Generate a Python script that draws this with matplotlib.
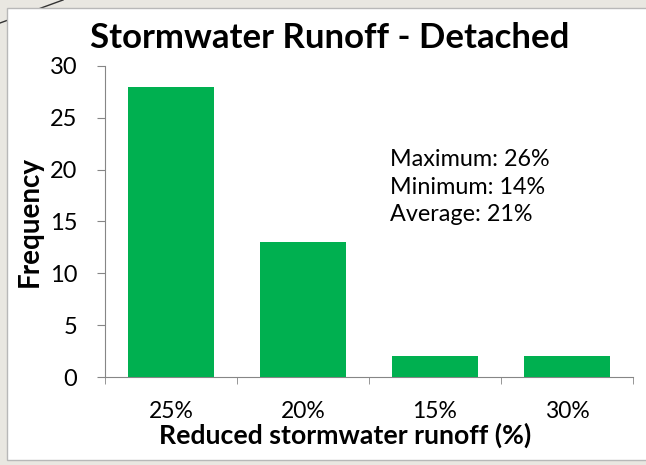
import matplotlib
matplotlib.use('Agg')
import matplotlib.pyplot as plt
from matplotlib.patches import FancyBboxPatch
from matplotlib.lines import Line2D

categories = ['25%', '20%', '15%', '30%']
frequency = [28, 13, 2, 2]
y_ticks = [0, 5, 10, 15, 20, 25, 30]
stats_lines = ['Maximum: 26%', 'Minimum: 14%', 'Average: 21%']

W, H = 646, 465
plt.rcParams['font.family'] = ['Lato', 'DejaVu Sans']

fig = plt.figure(figsize=(W / 100, H / 100), dpi=100)
fig.patch.set_facecolor('#e9e7e1')

# white slide panel and the stray line behind it
fig.add_artist(Line2D([0, 63 / W], [1 - 23 / H, 1.0], color='#333333', lw=1.0,
                      transform=fig.transFigure, zorder=-2))
fig.add_artist(FancyBboxPatch((7 / W, 5 / H), 650 / W, 452 / H,
                              boxstyle='square,pad=0', fc='white', ec='#b8b8b8',
                              lw=1.0, transform=fig.transFigure, zorder=-1))

ax_left, ax_bottom, ax_w, ax_h = 105, 377, 528, 311
ax = fig.add_axes([ax_left / W, 1 - ax_bottom / H, ax_w / W, ax_h / H])
ax.set_facecolor('none')
x = range(len(categories))
ax.bar(x, frequency, width=0.65, color='#00b050', zorder=3)

ax.set_xlim(-0.5, len(categories) - 0.5)
ax.set_ylim(0, 30)
ax.set_yticks(y_ticks)
ax.set_xticks(list(x))
ax.set_xticklabels(categories)
ax.set_xticks([i - 0.5 for i in range(len(categories) + 1)], minor=True)
ax.tick_params(axis='x', which='major', length=0, labelsize=16.5, pad=17)
ax.tick_params(axis='x', which='minor', length=5, color='#868686', direction='out')
ax.tick_params(axis='y', length=6, color='#868686', labelsize=17, pad=14)

for side in ['top', 'right']:
    ax.spines[side].set_visible(False)
ax.spines['left'].set_color('#868686')
ax.spines['bottom'].set_color('#868686')

xl = ax.set_xlabel('Reduced stormwater runoff (%)', fontsize=19.2, fontweight='bold')
xl.set_va('center')
ax.xaxis.set_label_coords((345 - ax_left) / ax_w, (ax_bottom - 435) / ax_h)
yl = ax.set_ylabel('Frequency', fontsize=20, fontweight='bold')
yl.set_va('center')
ax.yaxis.set_label_coords((30 - ax_left) / ax_w, 0.5)

fig.text(330 / W, 1 - 38 / H, 'Stormwater Runoff - Detached', fontsize=25,
         fontweight='bold', ha='center', va='center')

fig.text(390 / W, 1 - 187 / H, '\n'.join(stats_lines), fontsize=16.8,
         ha='left', va='center', linespacing=1.38)

fig.savefig('out.png', dpi=100, facecolor=fig.get_facecolor())
